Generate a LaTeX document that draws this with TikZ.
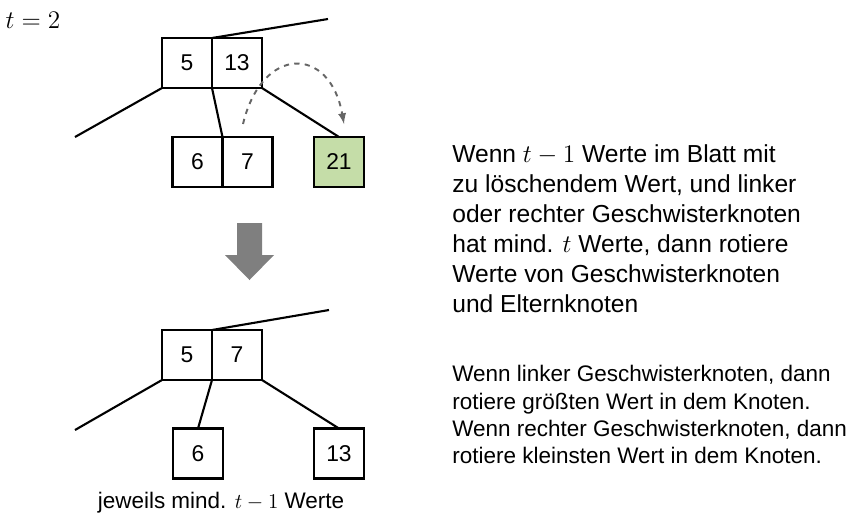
\documentclass[tikz,border=0pt]{standalone}
\usepackage{fontspec}
\setmainfont{Liberation Sans}
\usetikzlibrary{positioning}
\definecolor{leafgreen}{HTML}{C5DDA8}
\definecolor{arcgray}{HTML}{666666}
\definecolor{bigarrow}{HTML}{7F7F7F}

\begin{document}
\begin{tikzpicture}[x=0.02cm, y=-0.02cm,
    box/.style={draw, line width=1.2pt, minimum size=1cm, inner sep=0pt, outer sep=0pt,
        font=\fontsize{13}{15}\selectfont},
    edge/.style={line width=1.2pt},
    explain/.style={anchor=west, align=left, inner sep=0pt}]
\useasboundingbox (0,0) rectangle (856,515);

% Parameter
\node[font=\fontsize{15.5}{17}\selectfont] (param) at (33,20) {$t=2$};

% Tree before rotation
\node[box] (k5) at (187,63) {5};
\node[box, right=0pt of k5] (k13) {13};
\node[box] (k6) at (197.5,162) {6};
\node[box, right=0pt of k6] (k7) {7};
\node[box, fill=leafgreen] (k21) at (339,162) {21};
\coordinate (topup) at (328,19);
\coordinate (topleft) at (75,137);
\draw[edge] (k5.north east) -- (topup);
\draw[edge] (k5.south west) -- (topleft);
\draw[edge] (k5.south east) -- (k6.north east);
\draw[edge] (k13.south east) -- (k21.north);

% Rotation arc
\coordinate (arcstart) at (243,124);
\coordinate (arcend) at (344,124);
\draw[->, >=latex, dashed, arcgray, line width=1.1pt] (arcstart) .. controls (262,45) and (330,45) .. (arcend);

% Big arrow
\fill[bigarrow] (237,223) -- (262,223) -- (262,255) -- (274,255) -- (249.5,280)
    -- (225,255) -- (237,255) -- cycle;

% Tree after rotation
\node[box] (b5) at (187,355) {5};
\node[box, right=0pt of b5] (b7) {7};
\node[box] (b6) at (198,453.5) {6};
\node[box] (b13) at (339,453.5) {13};
\coordinate (botup) at (329,310);
\coordinate (botleft) at (75,430);
\draw[edge] (b5.north east) -- (botup);
\draw[edge] (b5.south west) -- (botleft);
\draw[edge] (b5.south east) -- (b6.north);
\draw[edge] (b7.south east) -- (b13.north);

% Caption
\node[font=\fontsize{12.8}{15}\selectfont] (caption) at (221,503) {jeweils mind. $t-1$ Werte};

% Explanations
\node[explain, font=\fontsize{14}{17.1}\selectfont] (rule) at (452,229) {
    Wenn $t-1$ Werte im Blatt mit\\
    zu löschendem Wert, und linker\\
    oder rechter Geschwisterknoten\\
    hat mind. $t$ Werte, dann rotiere\\
    Werte von Geschwisterknoten\\
    und Elternknoten};
\node[explain, font=\fontsize{12.8}{15.4}\selectfont] (detail) at (452,414.5) {
    Wenn linker Geschwisterknoten, dann\\
    rotiere größten Wert in dem Knoten.\\
    Wenn rechter Geschwisterknoten, dann\\
    rotiere kleinsten Wert in dem Knoten.};
\end{tikzpicture}
\end{document}
